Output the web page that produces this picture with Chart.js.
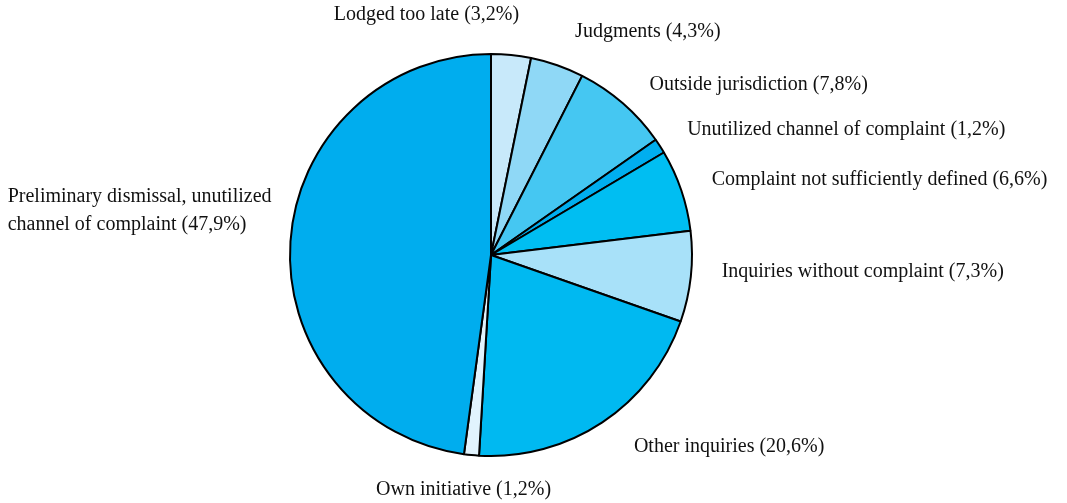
<!DOCTYPE html>
<html>
<head>
<meta charset="utf-8">
<script src="https://cdn.jsdelivr.net/npm/chart.js@4.4.0/dist/chart.umd.min.js"></script>
<style>
  html, body { margin: 0; padding: 0; background: #fff; }
  #wrap { width: 1067px; height: 503px; position: relative; }
</style>
</head>
<body>
<div id="wrap"><canvas id="chart"></canvas></div>
<script>
// slices, clockwise from 12 o'clock
const categories = [
  'Lodged too late',
  'Judgments',
  'Outside jurisdiction',
  'Unutilized channel of complaint',
  'Complaint not sufficiently defined',
  'Inquiries without complaint',
  'Other inquiries',
  'Own initiative',
  'Preliminary dismissal, unutilized channel of complaint'
];
const shares = [3.2, 4.3, 7.8, 1.2, 6.6, 7.3, 20.6, 1.2, 47.9];
const labelText = [
  ['Lodged too late (3,2%)'],
  ['Judgments (4,3%)'],
  ['Outside jurisdiction (7,8%)'],
  ['Unutilized channel of complaint (1,2%)'],
  ['Complaint not sufficiently defined (6,6%)'],
  ['Inquiries without complaint (7,3%)'],
  ['Other inquiries (20,6%)'],
  ['Own initiative (1,2%)'],
  ['Preliminary dismissal, unutilized', 'channel of complaint (47,9%)']
];
const sliceColors = [
  '#c8e9fa', '#8fd8f6', '#45c7f2', '#00aeef', '#00bef2',
  '#a8e1f9', '#00b9f1', '#e1f3fd', '#00adee'
];

// label placement: where the text block sits relative to the radial anchor, plus a nudge
const labelAlign = ['right', 'left', 'left', 'left', 'left', 'left', 'left', 'center', 'right'];
const labelNudge = [[5, -10], [8, -5], [7, 4], [2, 0], [2, -1], [1, -8], [15, -1], [-5, 5], [11, -29]];

const outsideLabels = {
  id: 'outsideLabels',
  afterDatasetsDraw(chart) {
    const ctx = chart.ctx;
    const arcs = chart.getDatasetMeta(0).data;
    ctx.save();
    ctx.font = '20px "Liberation Serif", "Times New Roman", serif';
    ctx.fillStyle = '#111';
    ctx.textBaseline = 'middle';
    ctx.textAlign = 'left';
    const lh = 28;
    arcs.forEach((arc, i) => {
      const mid = (arc.startAngle + arc.endAngle) / 2;
      const r = arc.outerRadius + 30;
      const x = arc.x + Math.cos(mid) * r + labelNudge[i][0];
      const y = arc.y + Math.sin(mid) * r + labelNudge[i][1];
      const lines = labelText[i];
      // block width, lines inside a block are left-aligned
      const w = Math.max(...lines.map(l => ctx.measureText(l).width));
      let left = x;
      if (labelAlign[i] === 'right') left = x - w;
      else if (labelAlign[i] === 'center') left = x - w / 2;
      lines.forEach((line, j) => {
        ctx.fillText(line, left, y + (j - (lines.length - 1) / 2) * lh);
      });
    });
    ctx.restore();
  }
};

new Chart(document.getElementById('chart'), {
  type: 'pie',
  data: {
    labels: categories,
    datasets: [{
      data: shares,
      backgroundColor: sliceColors,
      borderColor: '#000',
      borderWidth: 2,
      radius: 201
    }]
  },
  options: {
    responsive: true,
    maintainAspectRatio: false,
    animation: false,
    layout: { padding: { left: 0, right: 85, top: 7, bottom: 0 } },
    plugins: {
      legend: { display: false },
      tooltip: { enabled: false }
    }
  },
  plugins: [outsideLabels]
});
</script>
</body>
</html>
